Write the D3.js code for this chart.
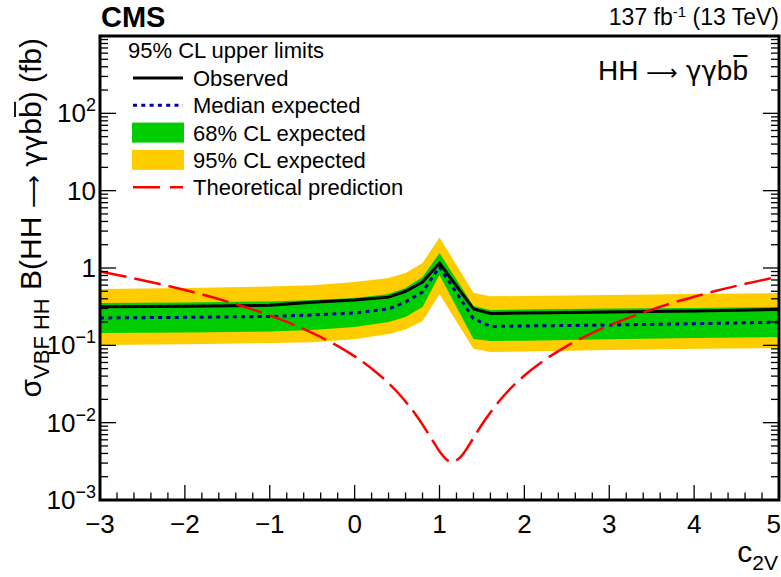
<!DOCTYPE html>
<html><head><meta charset="utf-8">
<script src="https://cdn.jsdelivr.net/npm/d3@7"></script>
<style>body{margin:0;background:#fff}svg{font-family:"Liberation Sans",Arial,Helvetica,sans-serif}.sym{font-family:"DejaVu Sans",sans-serif}</style>
</head><body><svg id="chart" width="781" height="577"></svg>
<script>
// ---------------- data ----------------
const c2v       = [-3, -2, -1, -0.5, 0, 0.4, 0.6, 0.8, 1, 1.4, 1.6, 2, 3, 4, 5];
const observed  = [0.315, 0.32, 0.33, 0.36, 0.385, 0.42, 0.50, 0.66, 1.16, 0.295, 0.258, 0.262, 0.27, 0.278, 0.29];
const expMedian = [0.226, 0.23, 0.236, 0.247, 0.262, 0.295, 0.363, 0.49, 1.03, 0.222, 0.175, 0.178, 0.183, 0.19, 0.20];
const exp68Up   = [0.353, 0.358, 0.37, 0.385, 0.41, 0.461, 0.551, 0.765, 1.56, 0.322, 0.286, 0.29, 0.30, 0.304, 0.313];
const exp68Down = [0.144, 0.147, 0.151, 0.158, 0.172, 0.20, 0.232, 0.313, 0.812, 0.121, 0.114, 0.115, 0.12, 0.124, 0.128];
const exp95Up   = [0.535, 0.551, 0.575, 0.60, 0.66, 0.743, 0.862, 1.16, 2.48, 0.48, 0.43, 0.435, 0.448, 0.46, 0.475];
const exp95Down = [0.101, 0.103, 0.107, 0.11, 0.12, 0.14, 0.16, 0.206, 0.461, 0.09, 0.082, 0.083, 0.087, 0.09, 0.092];

const theoryC2V = [-3, -2.75, -2.5, -2.25, -2, -1.75, -1.5, -1.25, -1, -0.75, -0.5, -0.25, 0, 0.25, 0.5, 0.75, 0.9, 1, 1.1, 1.15, 1.25, 1.4, 1.5, 1.75, 2, 2.25, 2.5, 2.75, 3, 3.25, 3.5, 3.75, 4, 4.25, 4.5, 4.75, 5];
const theoryXS  = [0.899, 0.794, 0.696, 0.604, 0.519, 0.440, 0.368, 0.303, 0.2435, 0.191, 0.1447, 0.105, 0.0719, 0.0452, 0.0251, 0.0114, 0.00635, 0.00427, 0.00323, 0.0031, 0.00362, 0.00635, 0.00947, 0.0218, 0.0407, 0.066, 0.0979, 0.136, 0.181, 0.232, 0.290, 0.355, 0.4255, 0.503, 0.587, 0.677, 0.774];

const xTickValues = [-3, -2, -1, 0, 1, 2, 3, 4, 5];
const xTickLabels = ["\u22123", "\u22122", "\u22121", "0", "1", "2", "3", "4", "5"];
const yTickValues = [1e-3, 1e-2, 1e-1, 1, 10, 100];
const yTickBase   = ["10", "10", "10", "1", "10", "10"];
const yTickExp    = ["\u22123", "\u22122", "\u22121", "", "", "2"];

const legendLabels = ["Observed", "Median expected", "68% CL expected", "95% CL expected", "Theoretical prediction"];

// ---------------- layout ----------------
const svg = d3.select("#chart");
const L = 100, R = 779, T = 36, B = 500;
const x = d3.scaleLinear().domain([-3, 5]).range([L, R]);
const y = d3.scaleLog().domain([1e-3, 1e3]).range([B, T]);

const COL_Y = "#ffcc00", COL_G = "#00cc00", COL_BLUE = "#000099", COL_RED = "#ff0000";

svg.append("clipPath").attr("id", "clip").append("rect")
  .attr("x", L).attr("y", T).attr("width", R - L).attr("height", B - T);
const plot = svg.append("g").attr("clip-path", "url(#clip)");

const idx = d3.range(c2v.length);
const area = (lo, hi) => d3.area().x(i => x(c2v[i])).y0(i => y(lo[i])).y1(i => y(hi[i]));
const line = arr => d3.line().x(i => x(c2v[i])).y(i => y(arr[i]));

plot.append("path").attr("d", area(exp95Down, exp95Up)(idx)).attr("fill", COL_Y);
plot.append("path").attr("d", area(exp68Down, exp68Up)(idx)).attr("fill", COL_G);
plot.append("path").attr("d", line(expMedian)(idx)).attr("fill", "none")
  .attr("stroke", COL_BLUE).attr("stroke-width", 3).attr("stroke-dasharray", "4,4.3");
plot.append("path").attr("d", line(observed)(idx)).attr("fill", "none")
  .attr("stroke", "#000").attr("stroke-width", 3);
plot.append("path")
  .attr("d", d3.line().curve(d3.curveMonotoneX).x((d, i) => x(theoryC2V[i])).y(d => y(d))(theoryXS))
  .attr("fill", "none").attr("stroke", COL_RED).attr("stroke-width", 2.5).attr("stroke-dasharray", "27,8");

// ---------------- axes / ticks ----------------
const ax = svg.append("g").attr("stroke", "#000").attr("stroke-width", 1.3);
d3.range(-3, 5.001, 0.2).forEach(v => {
  const major = Math.abs(v - Math.round(v)) < 1e-6;
  ax.append("line").attr("x1", x(v)).attr("x2", x(v)).attr("y1", B).attr("y2", B - (major ? 15 : 7.5));
});
for (let e = -3; e < 3; e++) {
  for (let m = 1; m <= 9; m++) {
    const v = m * Math.pow(10, e);
    const len = m === 1 ? 16 : 8;
    ax.append("line").attr("x1", L).attr("x2", L + len).attr("y1", y(v)).attr("y2", y(v));
    ax.append("line").attr("x1", R).attr("x2", R - len).attr("y1", y(v)).attr("y2", y(v));
  }
}
svg.append("rect").attr("x", L).attr("y", T).attr("width", R - L).attr("height", B - T)
  .attr("fill", "none").attr("stroke", "#000").attr("stroke-width", 3);

// x tick labels
svg.append("g").selectAll("text").data(xTickValues).join("text")
  .attr("x", (d, i) => i === xTickValues.length - 1 ? 781 : x(d))
  .attr("y", 533)
  .attr("text-anchor", (d, i) => i === xTickValues.length - 1 ? "end" : "middle")
  .attr("font-size", 26).text((d, i) => xTickLabels[i]);

// y tick labels
yTickValues.forEach((v, i) => {
  const t = svg.append("text").attr("x", 96).attr("y", y(v) + 9).attr("text-anchor", "end").attr("font-size", 26);
  t.append("tspan").text(yTickBase[i]);
  if (yTickExp[i]) t.append("tspan").attr("dy", -11).attr("font-size", 18).text(yTickExp[i]);
});

function overline(g, tspan, dyTop, w) {
  const bb = tspan.node().getBBox();
  g.append("line").attr("x1", bb.x + 1).attr("x2", bb.x + bb.width - 0.5)
    .attr("y1", bb.y + dyTop).attr("y2", bb.y + dyTop).attr("stroke", "#000").attr("stroke-width", w);
}

// x axis title
const xt = svg.append("text").attr("x", 778).attr("y", 562).attr("text-anchor", "end").attr("font-size", 30);
xt.append("tspan").text("c");
xt.append("tspan").attr("dy", 8).attr("font-size", 21).text("2V");

// y axis title
const yg = svg.append("g").attr("transform", "translate(41,38) rotate(-90)");
const yt = yg.append("text").attr("x", 0).attr("y", 0).attr("text-anchor", "end").attr("font-size", 30);
yt.append("tspan").text("\u03c3");
yt.append("tspan").attr("dy", 8).attr("font-size", 22).text("VBF HH");
yt.append("tspan").attr("dy", -8).text(" B(HH ");
yt.append("tspan").attr("class", "sym").attr("font-size", 23).text("\u27f6");
yt.append("tspan").attr("class", "sym").attr("font-size", 27).text(" \u03b3\u03b3");
yt.append("tspan").text("b");
const ybb = yt.append("tspan").text("b");
yt.append("tspan").text(") (fb)");
overline(yg, ybb, 1, 1.8);

// header texts
svg.append("text").attr("x", 101).attr("y", 27).attr("font-size", 29).attr("font-weight", "bold").text("CMS");
const lumi = svg.append("text").attr("x", 779).attr("y", 25).attr("text-anchor", "end").attr("font-size", 23);
lumi.append("tspan").text("137 fb");
lumi.append("tspan").attr("dy", -8).attr("font-size", 15).text("-1");
lumi.append("tspan").attr("dy", 8).text(" (13 TeV)");

const hg = svg.append("g");
const ht = hg.append("text").attr("x", 748).attr("y", 80).attr("text-anchor", "end").attr("font-size", 28);
ht.append("tspan").text("HH ");
ht.append("tspan").attr("class", "sym").attr("font-size", 22).text("\u27f6");
ht.append("tspan").attr("class", "sym").attr("font-size", 26).text(" \u03b3\u03b3");
ht.append("tspan").text("b");
const hbb = ht.append("tspan").text("b");
overline(hg, hbb, 1, 2);

// ---------------- legend ----------------
const lg = svg.append("g");
lg.append("text").attr("x", 128).attr("y", 58).attr("font-size", 22).text("95% CL upper limits");
const rowY = i => 78 + i * 27.3;
legendLabels.forEach((lab, i) => {
  lg.append("text").attr("x", 193).attr("y", rowY(i) + 8).attr("font-size", 22).text(lab);
});
lg.append("line").attr("x1", 133).attr("x2", 183).attr("y1", rowY(0)).attr("y2", rowY(0)).attr("stroke", "#000").attr("stroke-width", 3);
lg.append("line").attr("x1", 133).attr("x2", 183).attr("y1", rowY(1)).attr("y2", rowY(1)).attr("stroke", COL_BLUE).attr("stroke-width", 3).attr("stroke-dasharray", "4,4.3");
lg.append("rect").attr("x", 132).attr("y", rowY(2) - 10).attr("width", 52).attr("height", 20).attr("fill", COL_G);
lg.append("rect").attr("x", 132).attr("y", rowY(3) - 10).attr("width", 52).attr("height", 20).attr("fill", COL_Y);
lg.append("line").attr("x1", 133).attr("x2", 183).attr("y1", rowY(4)).attr("y2", rowY(4)).attr("stroke", COL_RED).attr("stroke-width", 2.5).attr("stroke-dasharray", "27,10");
</script></body></html>
